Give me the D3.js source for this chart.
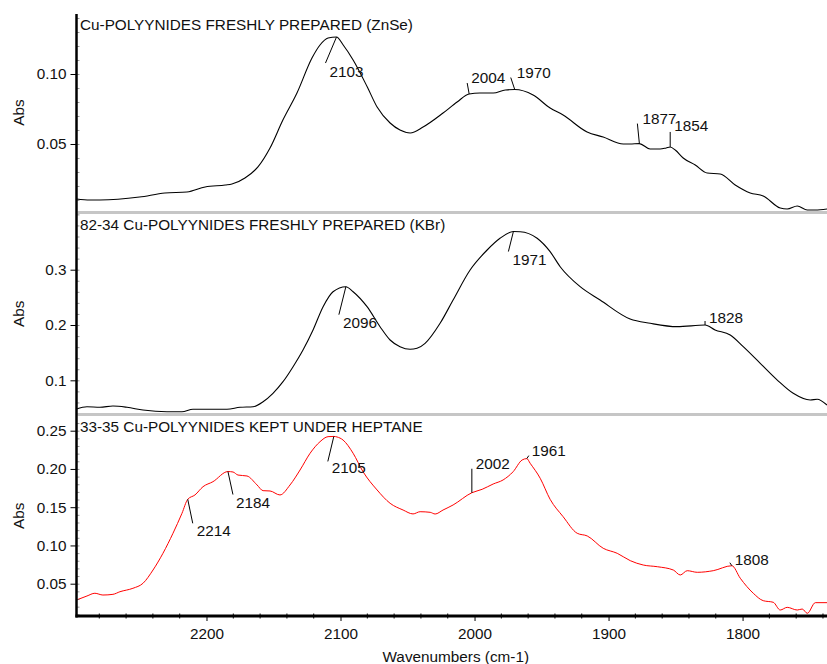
<!DOCTYPE html>
<html>
<head>
<meta charset="utf-8">
<script src="https://cdn.jsdelivr.net/npm/d3@7/dist/d3.min.js"></script>
<style>
  body { margin: 0; background: #fff; }
  svg { display: block; }
  text { font-family: "Liberation Sans", Arial, Helvetica, sans-serif; font-size: 15.3px; fill: #111; }
</style>
</head>
<body>
<svg id="chart" width="827" height="664"></svg>
<script>
// ---- spectra data (wavenumber in cm-1, absorbance) ----
const titles = [
  "Cu-POLYYNIDES FRESHLY PREPARED (ZnSe)",
  "82-34 Cu-POLYYNIDES FRESHLY PREPARED (KBr)",
  "33-35 Cu-POLYYNIDES KEPT UNDER HEPTANE"
];

const wnZnSe = [2297, 2287, 2279.5, 2250, 2231, 2214.6, 2201, 2186, 2181, 2171.3, 2161.6, 2152.6, 2143, 2132.5,
  2121.3, 2115.3, 2109.3, 2103, 2098, 2090.6, 2080, 2072.7, 2063, 2055.6, 2048, 2038.4, 2023.5, 2013, 2004,
  1996, 1986, 1977, 1970, 1956.3, 1943.6, 1933.9, 1916, 1904, 1889, 1884, 1877, 1869, 1861.5, 1857, 1854,
  1850, 1844.3, 1835.3, 1826.4, 1816.7, 1805.5, 1794.3, 1784.6, 1771.9, 1766.7, 1759.2, 1751.7, 1745.7, 1737];
const absZnSe = [0.0107, 0.0100, 0.0100, 0.0121, 0.0150, 0.0157, 0.0193, 0.0207, 0.0214, 0.0257, 0.0336, 0.0471,
  0.0671, 0.0864, 0.1114, 0.1207, 0.1257, 0.1264, 0.1207, 0.1100, 0.0907, 0.0764, 0.0650, 0.0600, 0.0579,
  0.0621, 0.0721, 0.0800, 0.0857, 0.0864, 0.0864, 0.0886, 0.0889, 0.0850, 0.0757, 0.0707, 0.0586, 0.0550,
  0.0500, 0.0500, 0.0503, 0.0464, 0.0464, 0.0472, 0.0479, 0.0455, 0.0400, 0.0350, 0.0293, 0.0286, 0.0207,
  0.0150, 0.0129, 0.0043, 0.0036, 0.0057, 0.0029, 0.0029, 0.0036];

const wnKBr = [2297, 2289.2, 2279.5, 2269.8, 2259.3, 2247.4, 2229.5, 2218.3, 2210.1, 2184.7, 2175, 2165.3, 2157.8,
  2150.4, 2142.9, 2135.4, 2128, 2120.5, 2113, 2105.6, 2096, 2090.6, 2080.2, 2070.5, 2063, 2055.6, 2048.1,
  2042.9, 2036.9, 2025.7, 2016, 2003.3, 1990.6, 1981, 1971, 1966, 1953.3, 1943.6, 1936.1, 1921.2, 1906.3,
  1883.9, 1868.9, 1848.8, 1828, 1820.5, 1809.2, 1799.5, 1786.8, 1774.1, 1762.2, 1749.5, 1744.3, 1737];
const absKBr = [0.0481, 0.0523, 0.0512, 0.0535, 0.0512, 0.0463, 0.0432, 0.0432, 0.0476, 0.0476, 0.0512, 0.0523,
  0.0613, 0.0765, 0.0975, 0.1246, 0.1548, 0.1910, 0.2331, 0.2602, 0.2693, 0.2602, 0.2331, 0.1969, 0.1729,
  0.1608, 0.1561, 0.1579, 0.1669, 0.2031, 0.2452, 0.2995, 0.3356, 0.3568, 0.3690, 0.3687, 0.3568, 0.3326,
  0.3054, 0.2693, 0.2452, 0.2108, 0.2031, 0.1970, 0.2000, 0.1910, 0.1819, 0.1608, 0.1307, 0.1005, 0.0765,
  0.0644, 0.0657, 0.0553];

const wnHeptane = [2297, 2289.2, 2283.3, 2277.3, 2269.8, 2264.6, 2254.9, 2247.4, 2239.9, 2232.5, 2225, 2218.3,
  2214, 2208.6, 2202.6, 2195.2, 2184, 2180.2, 2176.5, 2169.8, 2162.3, 2157.8, 2152.6, 2145.2, 2137.7, 2130.2,
  2122.7, 2115.3, 2109.3, 2105, 2102.6, 2098.1, 2090.6, 2083.2, 2072.7, 2063, 2053.3, 2045.9, 2040.6, 2033.1,
  2029.4, 2023.5, 2016, 2002, 1994.3, 1986.1, 1978.7, 1971.2, 1964.5, 1961, 1958.5, 1951, 1943.6, 1933.9,
  1923.4, 1915.9, 1904, 1893.5, 1883.8, 1874.1, 1863.6, 1851.7, 1846.5, 1841.3, 1833.8, 1821.9, 1808, 1801.7,
  1792, 1784.6, 1777.1, 1771.9, 1766.7, 1759.2, 1755.5, 1751.7, 1745.7, 1737];
const absHeptane = [0.0287, 0.0339, 0.0375, 0.0352, 0.0361, 0.0395, 0.0440, 0.0505, 0.0679, 0.0897, 0.1159,
  0.1420, 0.1603, 0.1660, 0.1768, 0.1833, 0.1966, 0.1960, 0.1920, 0.1908, 0.1791, 0.1716, 0.1712, 0.1660,
  0.1790, 0.1986, 0.2205, 0.2356, 0.2422, 0.2425, 0.2418, 0.2378, 0.2205, 0.1964, 0.1725, 0.1551, 0.1463,
  0.1412, 0.1441, 0.1433, 0.1411, 0.1463, 0.1529, 0.1689, 0.1734, 0.1803, 0.1856, 0.1964, 0.2117, 0.2135,
  0.2074, 0.1878, 0.1603, 0.1376, 0.1159, 0.1124, 0.0963, 0.0897, 0.0801, 0.0744, 0.0722, 0.0679, 0.0614,
  0.0670, 0.0649, 0.0670, 0.0735, 0.0571, 0.0375, 0.0278, 0.0257, 0.0156, 0.0191, 0.0156, 0.0169, 0.0113,
  0.0252, 0.0252];

// labelled peak positions (cm-1)
const peaksZnSe = [2103, 2004, 1970, 1877, 1854];
const peaksKBr = [2096, 1971, 1828];
const peaksHeptane = [2214, 2184, 2105, 2002, 1961, 1808];

// axis tick values
const xTicks = [2200, 2100, 2000, 1900, 1800];
const yTicksZnSe = [0.05, 0.10];
const yTicksKBr = [0.1, 0.2, 0.3];
const yTicksHeptane = [0.05, 0.10, 0.15, 0.20, 0.25];

// ---- layout ----
const svg = d3.select("#chart");
const left = 76.5, right = 827;
const axisY = 616;
const x = d3.scaleLinear().domain([2297, 1737]).range([left, right]);

// leader-line end and label offsets (px) relative to the marked point
const leaderOffsets = [
  [[-11, 26, -7, 40], [-2, -11, 2, -11], [-4, -12, 2, -12], [-2, -20, 3, -20], [0, -15, 4, -16]],
  [[-7, 28, -3, 41], [-5, 20, -1, 33], [0, -4, 4, -2]],
  [[5, 24, 9, 37], [5, 23, 8, 36], [-6, 25, -2, 37], [0, -24, 4, -24], [2, -3, 5, -3], [-2, -3, 3, -1]]
];

const panels = [
  { title: titles[0], wn: wnZnSe, ab: absZnSe, peaks: peaksZnSe, ticks: yTicksZnSe, fmt: ".2f",
    top: 14, bottom: 211, domain: [0.00214, 0.14286], color: "#000", minor: 0.01, width: 1.1 },
  { title: titles[1], wn: wnKBr, ab: absKBr, peaks: peaksKBr, ticks: yTicksKBr, fmt: ".1f",
    top: 214, bottom: 413.5, domain: [0.04, 0.4007], color: "#000", minor: 0.02, width: 1.1 },
  { title: titles[2], wn: wnHeptane, ab: absHeptane, peaks: peaksHeptane, ticks: yTicksHeptane, fmt: ".2f",
    top: 416, bottom: 615.5, domain: [0.00843, 0.2692], color: "#ff0000", minor: 0.01, width: 1 }
];

panels.forEach((p, i) => {
  const y = d3.scaleLinear().domain(p.domain).range([p.bottom, p.top]);
  const g = svg.append("g");

  // gray frame separator at top of lower panels
  if (i > 0) {
    g.append("line").attr("x1", left + 1).attr("x2", right)
      .attr("y1", p.top - 1.5).attr("y2", p.top - 1.5)
      .attr("stroke", "#c6c6c6").attr("stroke-width", 3);
  }

  const clipId = "clip" + i;
  svg.append("clipPath").attr("id", clipId).append("rect")
    .attr("x", left).attr("y", p.top).attr("width", right - left).attr("height", p.bottom - p.top);

  const data = p.wn.map((w, k) => [w, p.ab[k]]);
  const line = d3.line().x(d => x(d[0])).y(d => y(d[1])).curve(d3.curveMonotoneX);
  g.append("path").datum(data).attr("d", line)
    .attr("clip-path", `url(#${clipId})`)
    .attr("fill", "none").attr("stroke", p.color).attr("stroke-width", p.width)
    .attr("stroke-linejoin", "round");

  // y axis: major ticks with labels
  const yAxis = d3.axisLeft(y).tickValues(p.ticks).tickFormat(d3.format(p.fmt))
    .tickSize(6).tickPadding(4);
  const ya = g.append("g").attr("transform", `translate(${left},0)`).call(yAxis);
  ya.select(".domain").remove();
  ya.selectAll("line").attr("stroke", "#000").attr("stroke-width", 1);
  ya.selectAll("text").style("font-size", "15.3px").attr("fill", "#111");

  // y axis: minor ticks pointing into the plot
  const minorVals = d3.range(Math.ceil(p.domain[0] / p.minor) * p.minor, p.domain[1], p.minor);
  const ym = g.append("g").attr("transform", `translate(${left},0)`)
    .call(d3.axisLeft(y).tickValues(minorVals).tickSize(-3).tickFormat(""));
  ym.select(".domain").remove();
  ym.selectAll("line").attr("stroke", "#555").attr("stroke-width", 0.6);

  // panel title
  g.append("text").attr("x", left + 3.5).attr("y", p.top + 15.5).text(p.title);

  // y axis title
  g.append("text")
    .attr("transform", `translate(24,${(p.top + p.bottom) / 2}) rotate(-90)`)
    .attr("text-anchor", "middle").text("Abs");

  // peak markers
  p.peaks.forEach((pk, j) => {
    const k = p.wn.indexOf(pk);
    const px = x(pk), py = y(p.ab[k]);
    const o = leaderOffsets[i][j];
    g.append("line").attr("x1", px).attr("y1", py).attr("x2", px + o[0]).attr("y2", py + o[1])
      .attr("stroke", "#000").attr("stroke-width", 1);
    g.append("text").attr("x", px + o[2]).attr("y", py + o[3]).text(pk);
  });
});

// shared left axis line
svg.append("line").attr("x1", left).attr("x2", left).attr("y1", 14).attr("y2", axisY + 1.5)
  .attr("stroke", "#000").attr("stroke-width", 2.5);

// bottom x axis
const xa = svg.append("g").attr("transform", `translate(0,${axisY})`)
  .call(d3.axisBottom(x).tickValues(xTicks).tickFormat(d3.format("d")).tickSize(5).tickPadding(7));
xa.select(".domain").remove();
xa.selectAll("line").attr("stroke", "#000").attr("stroke-width", 1);
xa.selectAll("text").style("font-size", "15.3px").attr("fill", "#111");

const xMinor = d3.range(2280, 1737, -20).filter(v => v % 100 !== 0);
svg.append("g").selectAll("line").data(xMinor).join("line")
  .attr("x1", d => x(d)).attr("x2", d => x(d))
  .attr("y1", axisY - 2.5).attr("y2", axisY + 2.5)
  .attr("stroke", "#000").attr("stroke-width", 1);

svg.append("line").attr("x1", left - 1).attr("x2", right).attr("y1", axisY).attr("y2", axisY)
  .attr("stroke", "#000").attr("stroke-width", 3);

svg.append("text").attr("x", (left + right) / 2 + 4).attr("y", 662)
  .attr("text-anchor", "middle").text("Wavenumbers (cm-1)");
</script>
</body>
</html>
